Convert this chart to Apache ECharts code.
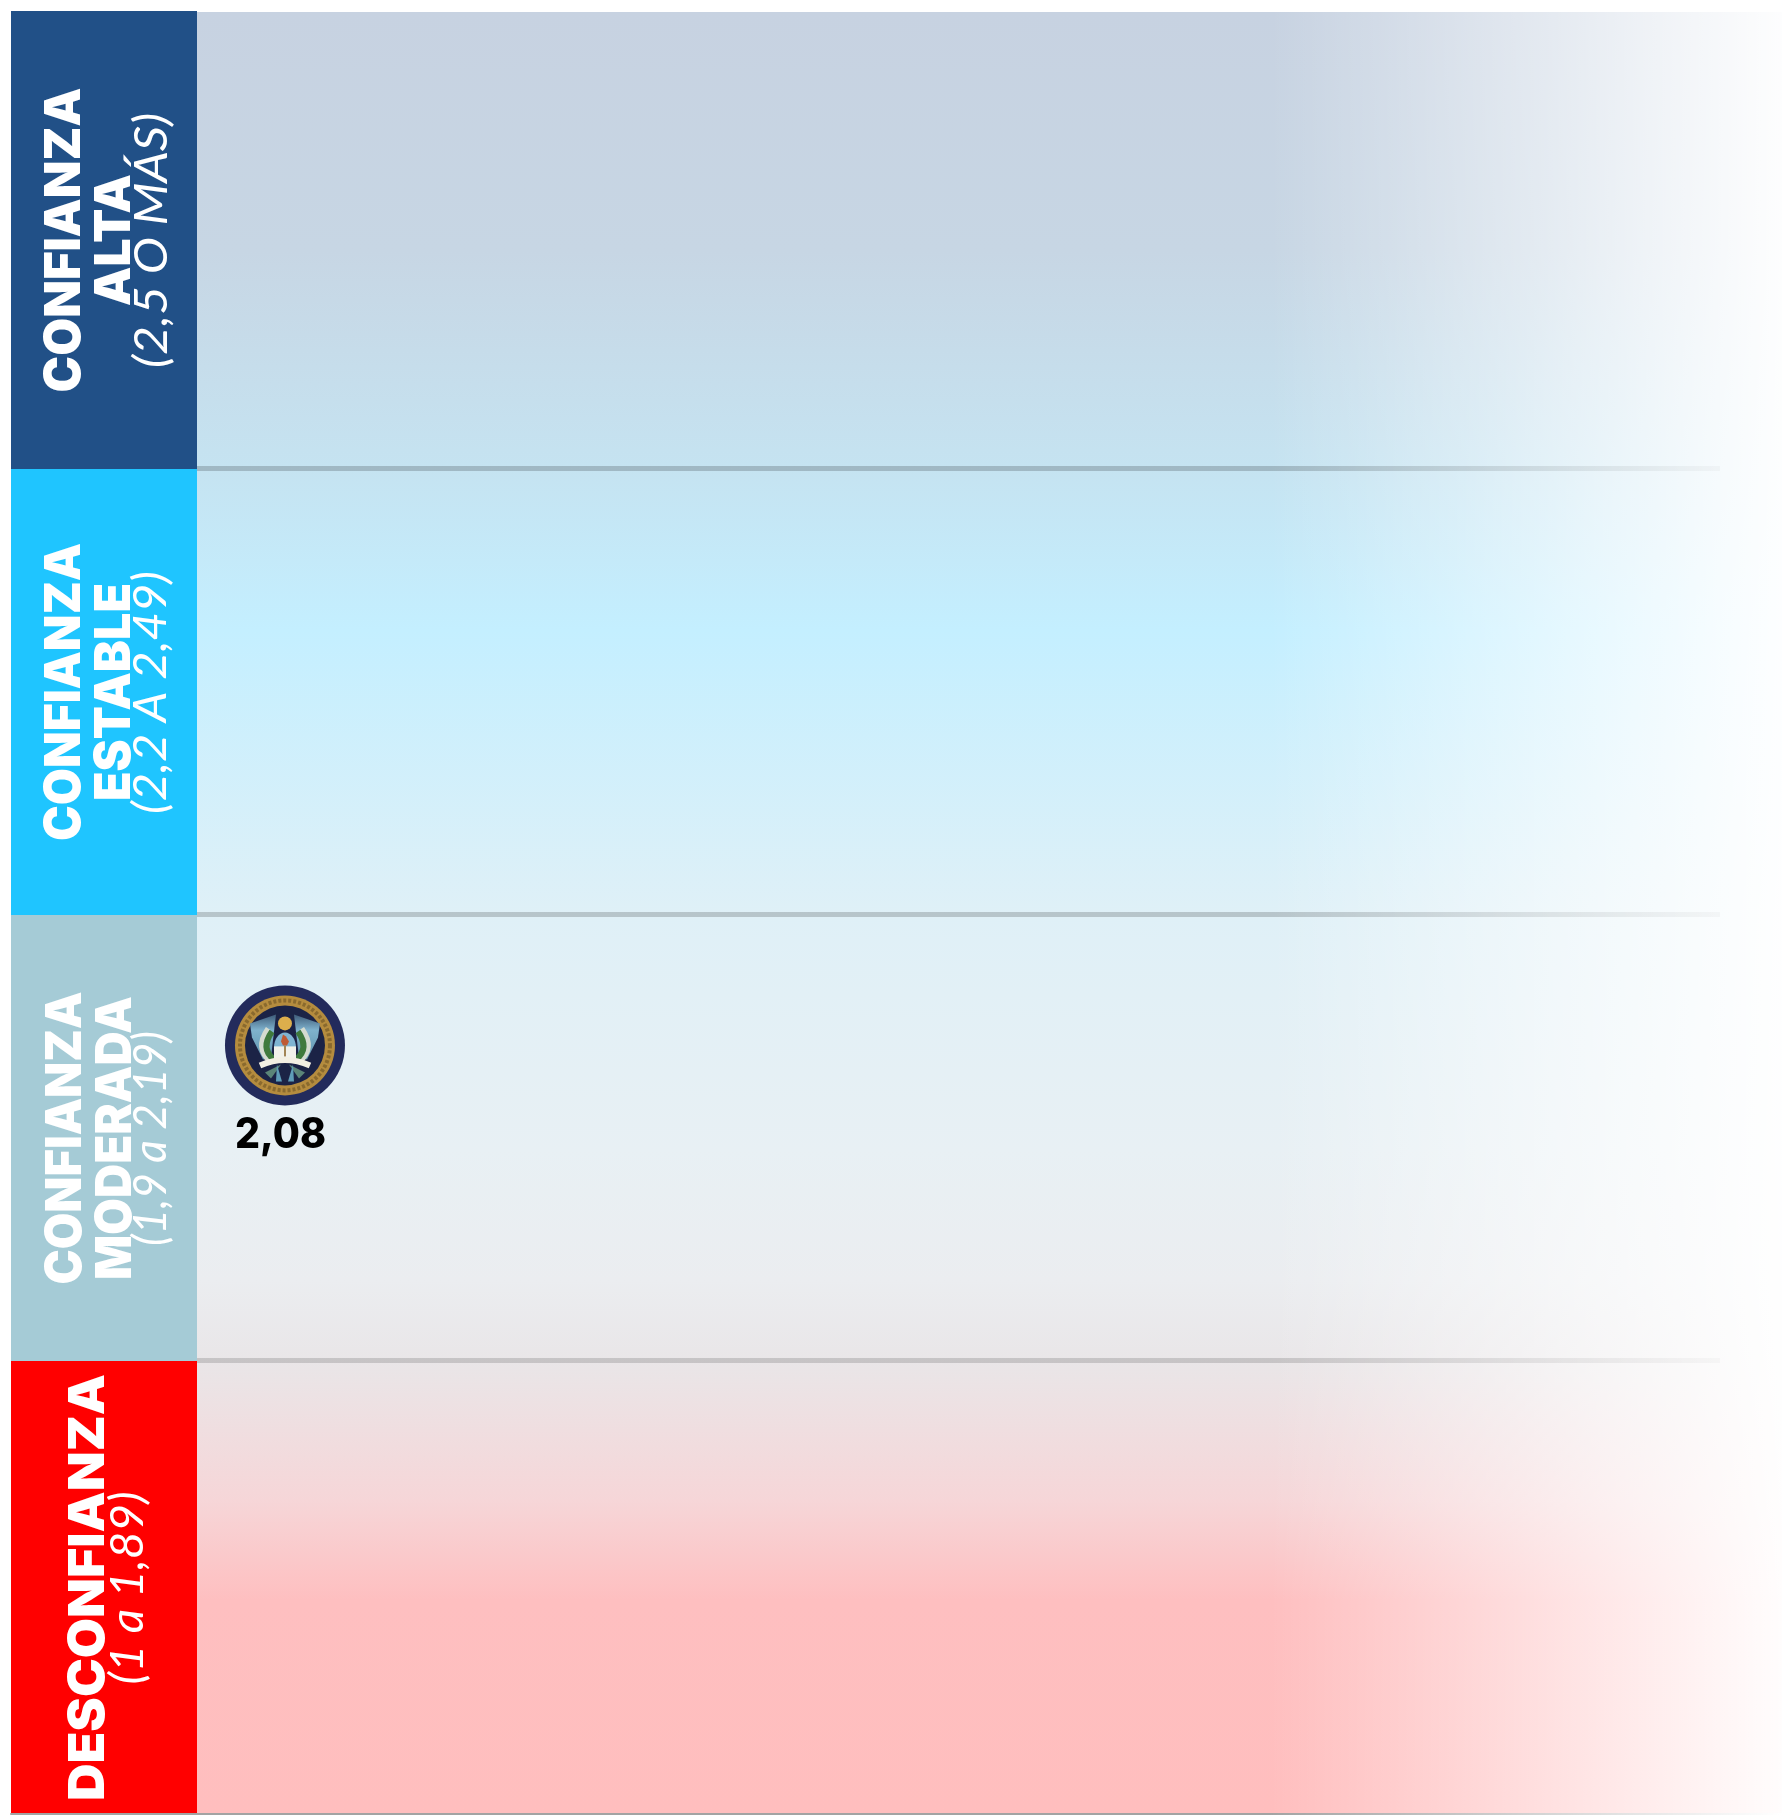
<!DOCTYPE html>
<html><head><meta charset="utf-8">
<style>html,body{margin:0;padding:0;background:#fff}#c{width:1782px;height:1815px}</style>
<script src="https://cdn.jsdelivr.net/npm/echarts@6/dist/echarts.min.js"></script>
</head><body><div id="c"></div>
<script>
// ---- data ----
const bandNames = ['CONFIANZA ALTA', 'CONFIANZA ESTABLE', 'CONFIANZA MODERADA', 'DESCONFIANZA'];
const bandTitles = [['CONFIANZA', 'ALTA'], ['CONFIANZA', 'ESTABLE'], ['CONFIANZA', 'MODERADA'], ['DESCONFIANZA']];
const bandNotes = ['(2,5 O MÁS)', '(2,2 A 2,49)', '(1,9 a 2,19)', '(1 a 1,89)'];
const bandMin = [2.5, 2.2, 1.9, 1];
const bandMax = [3, 2.5, 2.2, 1.89];
const panelColors = ['#215087', '#1fc5ff', '#a5cbd6', '#ff0000'];
const scoreBand = 2;
const scoreSlot = 15.47;
const scoreValue = 2.08;
const scoreLabel = '2,08';

// ---- layout ----
const W = 1782, H = 1815;
const EDGES = [11, 469, 915, 1361, 1814];
const LEFT = 11, PANEL_RIGHT = 197, PANEL_END = (PANEL_RIGHT - LEFT) / (W - LEFT) * 100;
const BOLD = '900 50px Inter, "DejaVu Sans", sans-serif';
const LIGHT = 'italic 400 46px Lato, "Open Sans", sans-serif';
const NUM = '800 42px Inter, sans-serif';
const titleX = [[65, 115], [65, 115], [66, 115.5], [89]];
const noteX = [152.5, 151.5, 151, 128.5];
const titleLen = [[305, 132], [298, 218], [293, 284], [427]];
const noteLen = [255, 243, 215, 193];
const lineAlpha = [.19, .18, .15, .36];
const lineWidth = [5, 5, 5, 2];

const ctx = document.createElement('canvas').getContext('2d');
function fit(font, text, len) { ctx.font = font; return len / ctx.measureText(text).width; }
function vtext(text, font, x, y, len) {
  const s = fit(font, text, len);
  return { type: 'text', x, y, rotation: Math.PI / 2, scaleX: s, scaleY: 1,
    style: { text, font, fill: '#fff', align: 'center', verticalAlign: 'middle' } };
}
function lineGrad(a, i) {
  const c = v => 'rgba(0,0,0,' + v + ')';
  const x0 = i === 3 ? 0 : (PANEL_RIGHT - LEFT) / (W - LEFT);
  const end = i === 3 ? 1 : (1720 - LEFT) / (W - LEFT);
  const stops = [];
  if (x0 > 0) stops.push({ offset: 0, color: 'rgba(0,0,0,0)' }, { offset: x0 - .0001, color: 'rgba(0,0,0,0)' });
  stops.push({ offset: x0, color: c(a) }, { offset: (1270 - LEFT) / (W - LEFT), color: c(a) });
  stops.push({ offset: end, color: c(i === 3 ? 0 : a * .15) });
  if (end < 1) stops.push({ offset: end + .0001, color: 'rgba(0,0,0,0)' }, { offset: 1, color: 'rgba(0,0,0,0)' });
  return { type: 'linear', x: LEFT, y: 0, x2: W, y2: 0, global: true, colorStops: stops };
}

const grids = [], xAxes = [], yAxes = [], series = [];
bandNames.forEach((name, i) => {
  grids.push({ left: LEFT, right: 0, top: EDGES[i], height: EDGES[i + 1] - EDGES[i] });
  xAxes.push({ gridIndex: i, type: 'value', min: 0, max: 100, z: 3, offset: i < 3 ? -1 : 0,
    axisLine: { show: true, onZero: false, lineStyle: { width: lineWidth[i], color: lineGrad(lineAlpha[i], i) } },
    axisTick: { show: false }, axisLabel: { show: false }, splitLine: { show: false } });
  yAxes.push({ gridIndex: i, type: 'value', min: bandMin[i], max: bandMax[i], show: false, splitLine: { show: false } });
  series.push({
    type: 'custom', name, xAxisIndex: i, yAxisIndex: i, clip: false, silent: true,
    data: [[PANEL_END, bandMin[i], bandMax[i]]],
    renderItem(p, api) {
      const a = api.coord([0, bandMax[i]]), b = api.coord([PANEL_END, bandMin[i]]);
      const cy = (a[1] + b[1]) / 2 ;
      const kids = [{ type: 'rect', shape: { x: a[0], y: a[1], width: b[0] - a[0], height: (i === 3 ? b[1] - 1 : b[1]) - a[1] }, style: { fill: panelColors[i] } }];
      bandTitles[i].forEach((t, k) => kids.push(vtext(t, BOLD, titleX[i][k], cy, titleLen[i][k])));
      kids.push(vtext(bandNotes[i], LIGHT, noteX[i], cy + 0.5, noteLen[i]));
      return { type: 'group', children: kids };
    }
  });
});

function seal(cx, cy) {
  const circ = (r, fill) => ({ type: 'circle', shape: { cx, cy, r }, style: { fill } });
  const poly = (pts, fill) => ({ type: 'polygon', shape: { points: pts.map(q => [cx + q[0], cy + q[1]]) }, style: { fill } });
  const curve = (d, stroke, lw) => ({ type: 'bezierCurve', shape: { x1: cx + d[0], y1: cy + d[1], cpx1: cx + d[2], cpy1: cy + d[3], x2: cx + d[4], y2: cy + d[5] }, style: { fill: null, stroke, lineWidth: lw } });
  const wing = { type: 'linear', x: 0, y: 0, x2: 0, y2: 1, colorStops: [{ offset: 0, color: '#3d5a78' }, { offset: .35, color: '#7fb2cd' }, { offset: 1, color: '#5f93ae' }] };
  return [
    circ(60, '#232b5c'),
    circ(50, '#b58c3e'),
    { type: 'circle', shape: { cx, cy, r: 45 }, style: { fill: 'none', stroke: '#8a6a2e', lineWidth: 4, lineDash: [3, 2] } },
    circ(40, '#1b2346'),
    poly([[-9, -31], [-35, -22], [-33, -8], [-22, 14], [-14, 12]], wing),
    poly([[9, -31], [35, -22], [33, -8], [22, 14], [14, 12]], wing),
    poly([[-4, 19], [-20, 27], [-14, 33]], '#5b8578'),
    poly([[4, 19], [20, 27], [14, 33]], '#5b8578'),
    poly([[-8, 19], [-9, 36], [-3, 36]], '#5f9db8'),
    poly([[8, 19], [9, 36], [3, 36]], '#5f9db8'),
    curve([-17, -17, -31, 3, -14, 17], '#d4dbd0', 5),
    curve([17, -17, 31, 3, 14, 17], '#d4dbd0', 5),
    curve([-13, -14, -25, 3, -11, 14], '#3f7a3d', 6),
    curve([13, -14, 25, 3, 11, 14], '#3f7a3d', 6),
    { type: 'circle', shape: { cx, cy: cy - 22, r: 7 }, style: { fill: '#dcae4c' } },
    { type: 'ellipse', shape: { cx, cy: cy + 2, rx: 11, ry: 15 }, style: { fill: '#7fb4d2' } },
    { type: 'rect', shape: { x: cx - 11, y: cy + 1, width: 22, height: 12 }, style: { fill: '#f1f1ea' } },
    poly([[-2, -11], [-4, -4], [-2, 0], [2, 0], [4, -4], [1, -9]], '#bf5a34'),
    { type: 'rect', shape: { x: cx - 1, y: cy, width: 2, height: 11 }, style: { fill: '#a28555' } },
    curve([-25, 20, 0, 9, 25, 20], '#f2efe3', 6)
  ];
}

series.push({
  type: 'custom', name: 'Presidente', xAxisIndex: scoreBand, yAxisIndex: scoreBand, clip: false, silent: true, z: 4,
  data: [[scoreSlot, scoreValue]],
  renderItem(p, api) {
    const c = api.coord([api.value(0), api.value(1)]);
    const s = fit(NUM, scoreLabel, 91);
    return { type: 'group', children: seal(c[0], c[1] - 48).concat([{
      type: 'text', x: c[0] - 4.5, y: c[1] + 42, scaleX: s,
      style: { text: scoreLabel, font: NUM, fill: '#000', align: 'center', verticalAlign: 'middle' }
    }]) };
  }
});

const y0 = 12, y1 = 1813, st = (y, color) => ({ offset: (y - y0) / (y1 - y0), color });
const chart = echarts.init(document.getElementById('c'), null, { renderer: 'canvas', width: W, height: H });
chart.setOption({
  animation: false,
  backgroundColor: '#fff',
  grid: grids, xAxis: xAxes, yAxis: yAxes, series,
  graphic: [
    { type: 'rect', z: -2, silent: true, shape: { x: PANEL_RIGHT, y: y0, width: W - PANEL_RIGHT, height: y1 - y0 },
      style: { fill: { type: 'linear', x: 0, y: 0, x2: 0, y2: 1, colorStops: [
        st(12, '#c7d2e1'), st(250, '#c7d6e4'), st(468, '#c5e3f1'), st(630, '#c4efff'), st(915, '#dff0f7'),
        st(1150, '#e8f0f4'), st(1280, '#ebedf0'), st(1360, '#e9e6e8'), st(1500, '#f6d6d8'), st(1600, '#febfc0'), st(1813, '#ffbebe') ] } } },
    { type: 'rect', z: -1, silent: true, shape: { x: 1270, y: y0, width: W - 1270, height: y1 - y0 },
      style: { fill: { type: 'linear', x: 0, y: 0, x2: 1, y2: 0, colorStops: [
        { offset: 0, color: 'rgba(255,255,255,0)' }, { offset: 1, color: 'rgba(255,255,255,.97)' } ] } } }
  ]
});
</script></body></html>
